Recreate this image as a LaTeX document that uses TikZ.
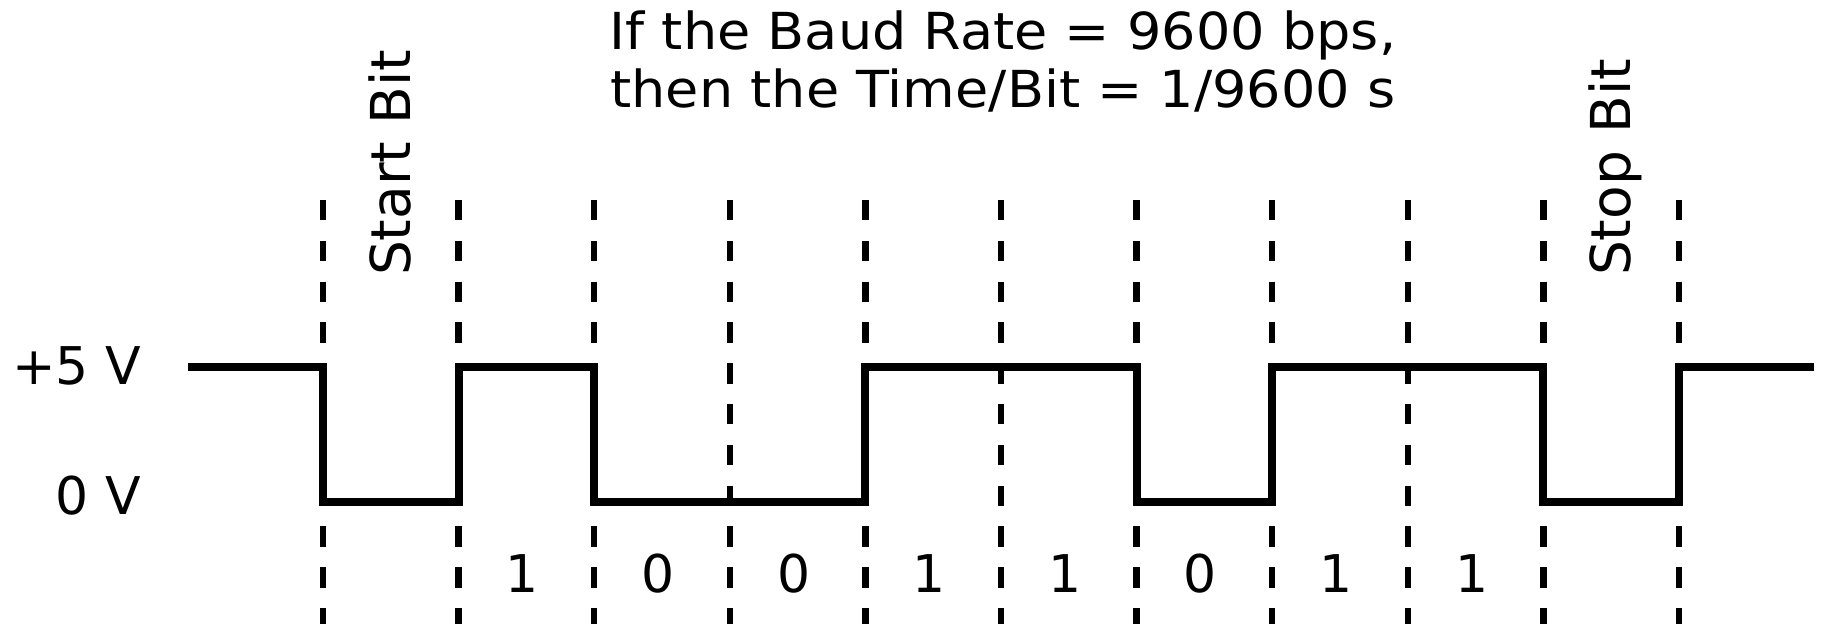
\documentclass[tikz,border=0pt]{standalone}
\usepackage{fontspec}
\usepackage{graphicx}
\setmainfont{DejaVu Sans}
\begin{document}
\begin{tikzpicture}[x=0.5pt,y=-0.5pt,
  lbl/.style={font=\fontsize{26pt}{29pt}\selectfont, inner sep=0pt, outer sep=0pt},
  biglbl/.style={font=\fontsize{27.5pt}{30pt}\selectfont, inner sep=0pt, outer sep=0pt},
  titlelbl/.style={font=\fontsize{25.5pt}{29pt}\selectfont, inner sep=0pt, outer sep=0pt},
  gridline/.style={line width=3.25pt, dash pattern=on 10.2pt off 10.2pt},
  sig/.style={line width=4pt, line join=miter}]
\useasboundingbox (0,0) rectangle (1821,624);
% bit boundaries
\foreach \i in {0,...,10} {
  \coordinate (t\i) at ({323+135.6*\i},200);
  \coordinate (b\i) at ({323+135.6*\i},624);
  \coordinate (h\i) at ({323+135.6*\i},367);
  \coordinate (l\i) at ({323+135.6*\i},502);
  \draw[gridline] (t\i) -- (b\i);
}
% signal
\coordinate (start) at (188,367);
\coordinate (end) at (1814,367);
\draw[sig] (start) -- (h0) -- (l0) -- (l1) -- (h1) -- (h2) -- (l2) -- (l4) -- (h4)
  -- (h6) -- (l6) -- (l7) -- (h7) -- (h9) -- (l9) -- (l10) -- (h10) -- (end);
% bit values
\foreach \i/\v in {1/1,2/0,3/0,4/1,5/1,6/0,7/1,8/1} {
  \node[lbl, anchor=base] (bit\i) at ({323+135.6*\i+63.8},593) {\v};
}
% texts
\node[titlelbl, anchor=base] (title1) at (1003,50) {\scalebox{1.06}[1]{If the Baud Rate = 9600 bps,}};
\node[titlelbl, anchor=base] (title2) at (1003,108) {\scalebox{1.06}[1]{then the Time/Bit = 1/9600 s}};
\node[lbl, anchor=base east] (hi) at (141,385) {+5 V};
\node[lbl, anchor=base east] (lo) at (141,515) {0 V};
\node[biglbl, rotate=90, anchor=base west] (startbit) at (410,276) {Start Bit};
\node[biglbl, rotate=90, anchor=base west] (stopbit) at (1630,276) {Stop Bit};
\end{tikzpicture}
\end{document}
